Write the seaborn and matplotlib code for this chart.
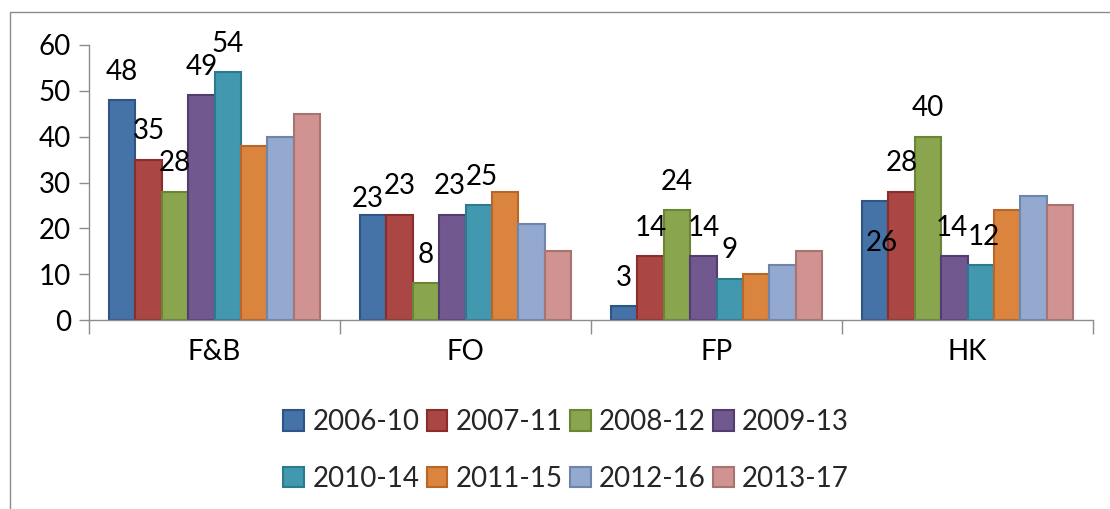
import matplotlib
matplotlib.use("Agg")
import matplotlib.pyplot as plt
import seaborn as sns
import pandas as pd
from matplotlib.patches import Rectangle, Patch

categories = ["F&B", "FO", "FP", "HK"]
series = ["2006-10", "2007-11", "2008-12", "2009-13", "2010-14", "2011-15", "2012-16", "2013-17"]
v_2006_10 = [48, 23, 3, 26]
v_2007_11 = [35, 23, 14, 28]
v_2008_12 = [28, 8, 24, 40]
v_2009_13 = [49, 23, 14, 14]
v_2010_14 = [54, 25, 9, 12]
v_2011_15 = [38, 28, 10, 24]
v_2012_16 = [40, 21, 12, 27]
v_2013_17 = [45, 15, 15, 25]
values = [v_2006_10, v_2007_11, v_2008_12, v_2009_13, v_2010_14, v_2011_15, v_2012_16, v_2013_17]
labeled_series = 5  # only first five series carry data labels
y_ticks = [0, 10, 20, 30, 40, 50, 60]

fills = ["#4572A7", "#AA4643", "#89A54E", "#71588F", "#4198AF", "#DB843D", "#93A9CF", "#D19392"]
edges = ["#2F5587", "#8A2E2B", "#6A8535", "#523C70", "#2B7A90", "#B8662A", "#6E85AE", "#A87472"]

rows = []
for s, vals in zip(series, values):
    for c, v in zip(categories, vals):
        rows.append({"cat": c, "series": s, "val": v})
df = pd.DataFrame(rows)

sns.set_theme(style="white")
plt.rcParams["font.family"] = ["Lato", "DejaVu Sans"]
FS = 20

fig = plt.figure(figsize=(11.10, 5.09), dpi=100)
ax = fig.add_axes([0.0802, 0.3713, 0.9045, 0.5403])

sns.barplot(data=df, x="cat", y="val", hue="series", order=categories, hue_order=series,
            palette=fills, width=0.84, dodge=True, ax=ax, legend=False, errorbar=None,
            saturation=1)

for i, cont in enumerate(ax.containers):
    for p in cont:
        p.set_edgecolor(edges[i])
        p.set_linewidth(1.5)

# label offsets (points): (dx, dy) relative to bar top center; key = (category, series)
offsets = {(1, 0): (-4, 2), (3, 0): (5, -40), (1, 3): (-2, 11), (1, 4): (2, 11),
           (3, 3): (-2, 11), (3, 4): (2, 11)}
for i, cont in enumerate(ax.containers[:labeled_series]):
    for j, p in enumerate(cont):
        dx, dy = offsets.get((j, i), (0, 11))
        ax.annotate(f"{int(p.get_height())}", (p.get_x() + p.get_width() / 2, p.get_height()),
                    xytext=(dx, dy), textcoords="offset points", ha="center", va="bottom",
                    fontsize=FS, color="black")

ax.set_ylim(0, 60)
ax.set_xlim(-0.5, len(categories) - 0.5)
ax.set_yticks(y_ticks)
ax.set_xlabel("")
ax.set_ylabel("")
ax.tick_params(axis="y", labelsize=FS, length=7, width=1, color="#8C8C8C", left=True, pad=6, labelcolor="black")
ax.set_xticks(range(len(categories)))
ax.set_xticklabels(categories)
ax.tick_params(axis="x", labelsize=FS, length=0, pad=14, labelcolor="black")
ax.set_xticks([k - 0.5 for k in range(len(categories) + 1)], minor=True)
ax.tick_params(axis="x", which="minor", length=10, width=1, color="#8C8C8C", bottom=True)
for side in ["top", "right"]:
    ax.spines[side].set_visible(False)
for side in ["left", "bottom"]:
    ax.spines[side].set_color("#8C8C8C")
    ax.spines[side].set_linewidth(1)

handles = [Patch(facecolor=f, edgecolor=e, linewidth=1.5) for f, e in zip(fills, edges)]
order = [0, 4, 1, 5, 2, 6, 3, 7]  # row-major appearance with ncol=4
fig.legend([handles[k] for k in order], [series[k] for k in order], ncol=4, loc="center",
           bbox_to_anchor=(0.51, 0.115), frameon=False, fontsize=FS, handlelength=0.75,
           handleheight=0.75, handletextpad=0.3, columnspacing=0.25, labelspacing=1.1)

fig.patches.append(Rectangle((10 / 1110, -0.1), 1.2, (509 - 12) / 509 + 0.1, transform=fig.transFigure,
                             fill=False, edgecolor="#8C8C8C", linewidth=1))

fig.savefig("out.png", dpi=100)
